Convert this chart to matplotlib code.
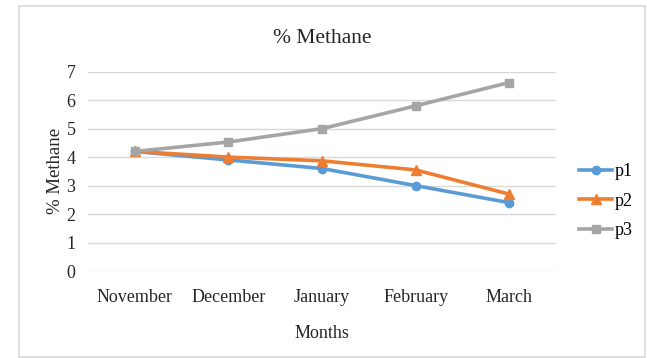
import matplotlib.pyplot as plt
from matplotlib.patches import Rectangle

months = ["November", "December", "January", "February", "March"]
p1 = [4.2, 3.9, 3.6, 3.0, 2.4]
p2 = [4.2, 4.0, 3.87, 3.55, 2.7]
p3 = [4.2, 4.53, 5.0, 5.8, 6.62]

plt.rcParams["font.family"] = ["Liberation Serif", "DejaVu Serif"]

fig = plt.figure(figsize=(6.47, 3.58), dpi=100)
# 바깥 테두리
fig.patches.append(Rectangle((19 / 647, 1 / 358), 626 / 647, 351 / 358,
                             transform=fig.transFigure, fill=False,
                             edgecolor="#D9D9D9", linewidth=1.2))

ax = fig.add_axes([88 / 647, 87 / 358, 468 / 647, 199.3 / 358])
x = range(len(months))
ax.plot(x, p1, color="#5B9BD5", lw=2.6, marker="o", ms=6, label="p1")
ax.plot(x, p2, color="#ED7D31", lw=2.6, marker="^", ms=7, label="p2")
ax.plot(x, p3, color="#A5A5A5", lw=2.6, marker="s", ms=6, label="p3")

ax.set_xlim(-0.5, len(months) - 0.5)
ax.set_ylim(0, 7)
ax.set_yticks(range(8))
ax.set_xticks(list(x))
ax.set_xticklabels(months)
ax.tick_params(length=0, labelsize=13, colors="#262626")
ax.tick_params(axis="y", pad=9)
ax.tick_params(axis="x", pad=13)
ax.grid(axis="y", color="#D9D9D9", lw=1)
ax.set_axisbelow(True)
for s in ax.spines.values():
    s.set_visible(False)

ax.set_title("% Methane", fontsize=15.5, color="#262626", pad=21)
ax.set_xlabel("Months", fontsize=13, color="#262626", labelpad=14)
ax.set_ylabel("% Methane", fontsize=13.5, color="#262626", labelpad=2)

ax.legend(loc="center left", bbox_to_anchor=(1.015, 0.35), frameon=False,
          fontsize=13, handlelength=1.8, handletextpad=0.15, labelspacing=0.7)

fig.savefig("out.png", dpi=100)
